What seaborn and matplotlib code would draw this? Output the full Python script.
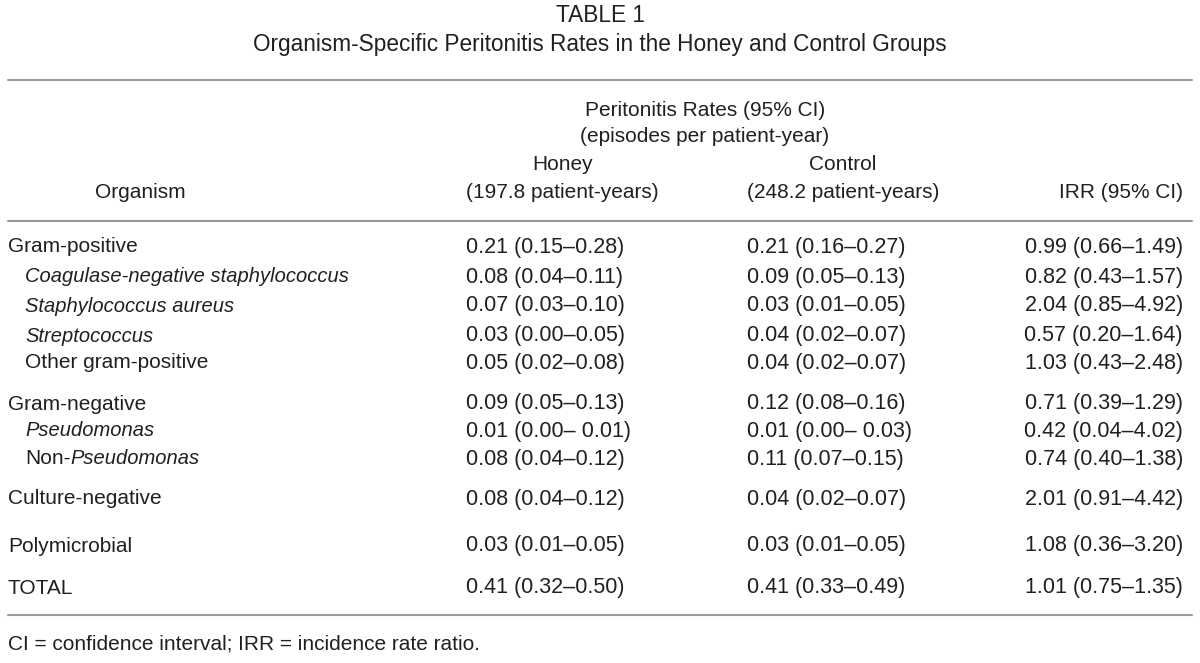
import matplotlib.pyplot as plt
import seaborn as sns

# Table content
title = 'TABLE 1'
subtitle = 'Organism-Specific Peritonitis Rates in the Honey and Control Groups'
footnote = 'CI = confidence interval; IRR = incidence rate ratio.'

organisms = ['Gram-positive', 'Coagulase-negative staphylococcus', 'Staphylococcus aureus',
             'Streptococcus', 'Other gram-positive', 'Gram-negative', 'Pseudomonas',
             'Non-Pseudomonas', 'Culture-negative', 'Polymicrobial', 'TOTAL']
honey = ['0.21 (0.15–0.28)', '0.08 (0.04–0.11)', '0.07 (0.03–0.10)', '0.03 (0.00–0.05)',
         '0.05 (0.02–0.08)', '0.09 (0.05–0.13)', '0.01 (0.00– 0.01)', '0.08 (0.04–0.12)',
         '0.08 (0.04–0.12)', '0.03 (0.01–0.05)', '0.41 (0.32–0.50)']
control = ['0.21 (0.16–0.27)', '0.09 (0.05–0.13)', '0.03 (0.01–0.05)', '0.04 (0.02–0.07)',
           '0.04 (0.02–0.07)', '0.12 (0.08–0.16)', '0.01 (0.00– 0.03)', '0.11 (0.07–0.15)',
           '0.04 (0.02–0.07)', '0.03 (0.01–0.05)', '0.41 (0.33–0.49)']
irr = ['0.99 (0.66–1.49)', '0.82 (0.43–1.57)', '2.04 (0.85–4.92)', '0.57 (0.20–1.64)',
       '1.03 (0.43–2.48)', '0.71 (0.39–1.29)', '0.42 (0.04–4.02)', '0.74 (0.40–1.38)',
       '2.01 (0.91–4.42)', '1.08 (0.36–3.20)', '1.01 (0.75–1.35)']

# layout (pixel coords)
row_y = [247, 277, 306, 336, 363, 404, 431, 459, 499, 546, 588]
indented = [False, True, True, True, True, False, True, True, False, False, False]
italic = [False, True, True, True, False, False, True, False, False, False, False]

sns.set_theme(style='white')
plt.rcParams['font.family'] = ['Liberation Sans', 'DejaVu Sans']

fig = plt.figure(figsize=(12, 6.63), dpi=100)
ax = fig.add_axes([0, 0, 1, 1])
ax.set_xlim(0, 1200)
ax.set_ylim(663, 0)
ax.axis('off')

fs = 15          # running text
fs_num = 15.5    # numeric cells
fs_it = 14.5
fs_title = 16.3
col = '#231f20'
x_h, x_c, x_r = 466, 747, 1183

ax.text(600, 16, title, ha='center', va='center', fontsize=fs_title, color=col)
ax.text(600, 45, subtitle, ha='center', va='center', fontsize=fs_title, color=col)

for y in [80, 221, 615]:
    ax.plot([8, 1192], [y, y], color='#9a9a9a', lw=1.5)

ax.text(705, 110, 'Peritonitis Rates (95% CI)', ha='center', va='center', fontsize=fs, color=col)
ax.text(705, 136, '(episodes per patient-year)', ha='center', va='center', fontsize=fs, color=col)
hdr_h = ax.text(x_h, 193, '(197.8 patient-years)', ha='left', va='center', fontsize=fs, color=col)
hdr_c = ax.text(x_c, 193, '(248.2 patient-years)', ha='left', va='center', fontsize=fs, color=col)
ax.annotate('Honey', xy=(0.5, 0.5), xycoords=hdr_h, xytext=(0, 28), textcoords='offset pixels',
            ha='center', va='center', fontsize=fs, color=col)
ax.annotate('Control', xy=(0.5, 0.5), xycoords=hdr_c, xytext=(0, 28), textcoords='offset pixels',
            ha='center', va='center', fontsize=fs, color=col)
ax.text(140, 193, 'Organism', ha='center', va='center', fontsize=fs, color=col)
ax.text(x_r, 193, 'IRR (95% CI)', ha='right', va='center', fontsize=fs, color=col)

for name, h, c, r, y, ind, it in zip(organisms, honey, control, irr, row_y, indented, italic):
    x0 = 25 if ind else 8
    if name == 'Non-Pseudomonas':
        t = ax.text(x0, y, 'Non-', ha='left', va='center', fontsize=fs, color=col)
        ax.annotate('Pseudomonas', xy=(1, 0.5), xycoords=t, ha='left', va='center',
                    fontsize=fs_it, color=col, style='italic')
    else:
        ax.text(x0, y, name, ha='left', va='center', color=col,
                fontsize=fs_it if it else fs, style='italic' if it else 'normal')
    ax.text(x_h, y, h, ha='left', va='center', fontsize=fs_num, color=col)
    ax.text(x_c, y, c, ha='left', va='center', fontsize=fs_num, color=col)
    ax.text(x_r, y, r, ha='right', va='center', fontsize=fs_num, color=col)

ax.text(8, 644, footnote, ha='left', va='center', fontsize=fs, color=col)

fig.savefig('out.png', dpi=100)
